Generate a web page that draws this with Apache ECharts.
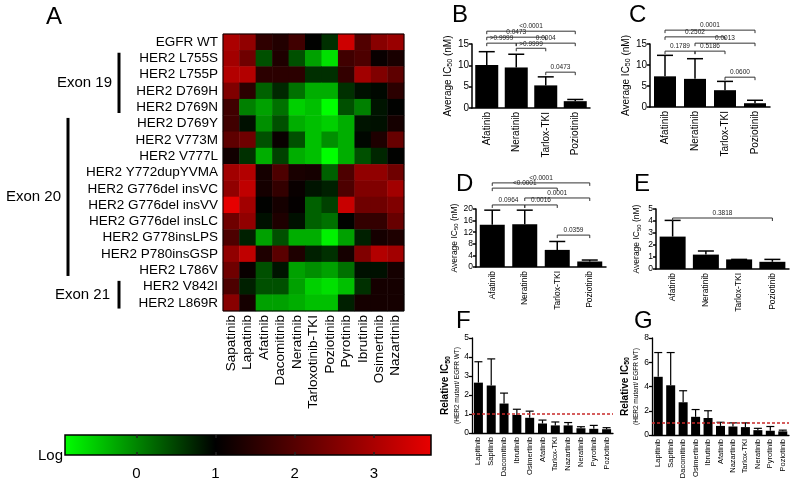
<!DOCTYPE html>
<html><head><meta charset="utf-8">
<script src="https://cdn.jsdelivr.net/npm/echarts@6/dist/echarts.min.js"></script>
<style>html,body{margin:0;padding:0;background:#fff}#c{width:800px;height:483px}</style>
</head><body><div id="c"></div>
<script>
// ---------------- DATA ----------------
const mutations = ['EGFR WT','HER2 L755S','HER2 L755P','HER2 D769H','HER2 D769N','HER2 D769Y','HER2 V773M','HER2 V777L','HER2 Y772dupYVMA','HER2 G776del insVC','HER2 G776del insVV','HER2 G776del insLC','HER2 G778insLPS','HER2 P780insGSP','HER2 L786V','HER2 V842I','HER2 L869R'];
const heatDrugs = ['Sapatinib','Lapatinib','Afatinib','Dacomitinib','Neratinib','Tarloxotinib-TKI','Poziotinib','Pyrotinib','Ibrutinib','Osimertinib','Nazartinib'];
const heatValues = [
  [3.0, 2.7, 1.55, 1.4, 1.75, 1.0, 0.64, 3.4, 1.95, 2.6, 2.8],
  [2.9, 2.3, 0.4, 1.35, 0.4, -0.2, -0.67, 1.75, 1.9, 1.1, 1.3],
  [3.1, 3.1, 1.5, 1.5, 1.5, 0.65, 0.65, 1.6, 2.9, 2.5, 2.1],
  [2.5, 1.5, 0.28, 0.7, 0.16, -0.3, -0.3, 0.64, 0.88, 0.94, 1.5],
  [1.75, 0.05, -0.2, 0.16, -0.55, -0.43, -0.9, 0.4, 0.05, 0.85, 1.0],
  [1.75, 0.88, -0.07, 0.4, -0.3, -0.43, -0.55, -0.3, 0.85, 0.88, 1.25],
  [2.1, 2.3, 0.4, 1.1, 0.4, -0.43, -0.07, -0.3, 0.95, 1.35, 2.2],
  [1.2, 0.64, -0.3, 0.52, -0.3, -0.43, -0.9, -0.3, 0.4, 0.72, 1.0],
  [2.9, 3.1, 1.25, 1.9, 1.3, 1.25, 0.28, 1.9, 2.7, 2.7, 2.3],
  [2.7, 3.25, 1.25, 1.6, 1.1, 0.85, 0.76, 1.9, 2.5, 2.5, 2.9],
  [3.7, 2.9, 1.0, 1.25, 1.05, 0.28, 0.52, 3.35, 2.3, 2.3, 2.5],
  [2.3, 2.7, 0.88, 1.35, 0.88, 0.28, 0.16, 1.0, 1.6, 1.6, 2.2],
  [1.9, 0.76, -0.2, 0.4, -0.3, -0.3, -0.8, -0.2, 0.76, 1.25, 1.35],
  [2.7, 3.25, 1.35, 2.05, 1.35, 0.76, 0.64, 1.25, 2.5, 3.1, 2.9],
  [2.3, 1.1, 0.4, 0.85, -0.2, -0.07, -0.2, 0.16, 0.88, 0.88, 1.25],
  [1.9, 0.76, 0.4, 0.4, -0.2, -0.55, -0.67, -0.43, 0.64, 1.25, 1.25],
  [2.6, 1.25, -0.2, -0.2, -0.3, -0.43, -0.43, 0.76, 1.25, 1.25, 1.25]
];
const colorMin = -0.9, colorMid = 1, colorMax = 3.72;
const colorbarTicks = [0, 1, 2, 3];

const exonGroups = [
  {name: 'Exon 19', first: 1, last: 4},
  {name: 'Exon 20', first: 5, last: 14},
  {name: 'Exon 21', first: 15, last: 16}
];

const drugsBCDE = ['Afatinib','Neratinib','Tarlox-TKI','Poziotinib'];
const bMeans = [10.1, 9.5, 5.3, 1.6];
const bUpper = [13.2, 12.6, 7.3, 2.0];
const bBracketPairs = [[0,3,18.0],[0,2,16.6],[0,1,15.2],[1,3,15.2],[1,2,14.0],[2,3,8.4]];
const bBracketLabels = ['<0.0001','0.0473','>0.9999','0.0004','>0.9999','0.0473'];

const cMeans = [7.3, 6.7, 4.0, 0.9];
const cUpper = [12.3, 11.5, 6.1, 1.6];
const cBracketPairs = [[0,3,18.3],[0,2,16.7],[1,3,15.2],[0,1,13.3],[1,2,13.3],[2,3,7.1]];
const cBracketLabels = ['0.0001','0.2502','0.0013','0.1789','0.5186','0.0600'];

const dMeans = [14.6, 14.7, 5.9, 1.9];
const dUpper = [19.6, 19.6, 8.8, 2.4];
const dBracketPairs = [[0,3,29.0],[0,2,27.2],[1,3,23.8],[0,1,21.4],[1,2,21.4],[2,3,11.0]];
const dBracketLabels = ['<0.0001','<0.0001','0.0001','0.0964','0.0016','0.0359'];

const eMeans = [2.7, 1.2, 0.8, 0.6];
const eUpper = [4.05, 1.5, 0.8, 0.8];
const eBracketPairs = [[0,3,4.25]];
const eBracketLabels = ['0.3818'];

const fDrugs = ['Lapitinib','Sapitinib','Dacomitinib','Ibrutinib','Osimertinib','Afatinib','Tarlox-TKI','Nazartinib','Neratinib','Pyrotinib','Poziotinib'];
const fMeans = [2.65, 2.5, 1.55, 0.95, 0.8, 0.5, 0.4, 0.4, 0.25, 0.22, 0.2];
const fUpper = [3.75, 3.9, 2.1, 1.25, 1.15, 0.68, 0.58, 0.55, 0.33, 0.4, 0.28];

const gDrugs = ['Lapitinib','Sapitinib','Dacomitinib','Osimertinib','Ibrutinib','Afatinib','Nazartinib','Tarlox-TKI','Neratinib','Pyrotinib','Poziotinib'];
const gMeans = [4.8, 4.1, 2.7, 1.5, 1.4, 0.75, 0.7, 0.65, 0.4, 0.35, 0.3];
const gUpper = [6.8, 6.8, 3.65, 2.1, 2.0, 1.05, 1.0, 1.0, 0.55, 0.7, 0.4];
const referenceRatio = 1;

// ---------------- STYLE / LAYOUT ----------------
const FONT = 'Liberation Sans, Arial, sans-serif';
const heatRect = {left: 223, top: 34, width: 181, height: 277};
const cbRect = {left: 65, top: 435, width: 366, height: 20};

function colorFor(v) {
  if (v <= colorMid) {
    const g = Math.round(255 * (colorMid - v) / (colorMid - colorMin));
    return 'rgb(0,' + Math.max(0, Math.min(255, g)) + ',0)';
  }
  const r = Math.round(232 * (v - colorMid) / (colorMax - colorMid));
  return 'rgb(' + Math.max(0, Math.min(255, r)) + ',0,0)';
}
const stops = [];
const NST = 60;
for (let i = 0; i <= NST; i++) stops.push(colorFor(colorMin + (colorMax - colorMin) * i / NST));

const heatData = [];
heatValues.forEach((row, ri) => row.forEach((v, ci) => heatData.push([ci, ri, v])));

const grids = [], xAxes = [], yAxes = [], series = [];

// heatmap grid 0
grids.push({left: heatRect.left, top: heatRect.top, width: heatRect.width, height: heatRect.height});
xAxes.push({type: 'category', gridIndex: 0, data: heatDrugs, position: 'bottom',
  axisLine: {show: false}, axisTick: {show: false}, splitLine: {show: false},
  axisLabel: {rotate: 90, fontSize: 13.5, color: '#000', margin: 4, fontFamily: FONT, interval: 0}});
yAxes.push({type: 'category', gridIndex: 0, data: mutations, inverse: true,
  axisLine: {show: false}, axisTick: {show: false}, splitLine: {show: false},
  axisLabel: {fontSize: 13.5, color: '#000', margin: 5, fontFamily: FONT, interval: 0}});
series.push({type: 'heatmap', xAxisIndex: 0, yAxisIndex: 0, data: heatData, itemStyle: {borderWidth: 0}, emphasis: {disabled: true}});

// colorbar grid 1
grids.push({left: cbRect.left, top: cbRect.top, width: cbRect.width, height: cbRect.height});
xAxes.push({type: 'value', gridIndex: 1, min: colorMin, max: colorMax, position: 'bottom', z: 10,
  axisLine: {show: false}, splitLine: {show: false},
  axisTick: {show: true, inside: true, length: 3, lineStyle: {color: '#222', width: 1.5}, customValues: colorbarTicks},
  axisLabel: {fontSize: 15, color: '#000', margin: 11, fontFamily: FONT, customValues: colorbarTicks}});
xAxes.push({type: 'value', gridIndex: 1, min: colorMin, max: colorMax, position: 'top', z: 10,
  axisLine: {show: false}, splitLine: {show: false},
  axisTick: {show: true, inside: true, length: 3, lineStyle: {color: '#222', width: 1.5}, customValues: colorbarTicks},
  axisLabel: {show: false}});
yAxes.push({type: 'value', gridIndex: 1, show: false, min: 0, max: 1});

function errRender(capW, lw) {
  return function (params, api) {
    const x = api.value(0), m = api.value(1), e = api.value(2);
    const p0 = api.coord([x, m]), p1 = api.coord([x, e]);
    return {type: 'group', children: [
      {type: 'line', shape: {x1: p0[0], y1: p0[1], x2: p1[0], y2: p1[1]}, style: {stroke: '#000', lineWidth: lw}},
      {type: 'line', shape: {x1: p1[0] - capW / 2, y1: p1[1], x2: p1[0] + capW / 2, y2: p1[1]}, style: {stroke: '#000', lineWidth: lw}}
    ]};
  };
}
function bracketRender(labels) {
  return function (params, api) {
    const a = api.coord([api.value(0), api.value(2)]);
    const b = api.coord([api.value(1), api.value(2)]);
    const t = 3;
    return {type: 'group', children: [
      {type: 'polyline', shape: {points: [[a[0], a[1] + t], [a[0], a[1]], [b[0], b[1]], [b[0], b[1] + t]]},
        style: {stroke: '#333', lineWidth: 1, fill: null}},
      {type: 'text', x: (a[0] + b[0]) / 2, y: a[1] - 1,
        style: {text: labels[params.dataIndex], fontSize: 6.5, fontFamily: FONT, fill: '#222', align: 'center', verticalAlign: 'bottom'}}
    ]};
  };
}

function addPanel(p) {
  const gi = grids.length;
  grids.push({left: p.rect[0], top: p.rect[1], width: p.rect[2], height: p.rect[3]});
  const xi = xAxes.length, yi = yAxes.length;
  xAxes.push({type: 'category', gridIndex: gi, data: p.cats,
    axisLine: {lineStyle: {color: '#000', width: p.axisW}}, axisTick: {show: false}, splitLine: {show: false},
    axisLabel: {rotate: 90, fontSize: p.xFont, color: '#000', margin: 4, fontFamily: FONT, interval: 0}});
  yAxes.push({type: 'value', gridIndex: gi, min: 0, max: p.yMax, interval: p.yInt,
    axisLine: {show: true, lineStyle: {color: '#000', width: p.axisW}},
    axisTick: {show: true, length: 3, lineStyle: {color: '#000', width: p.axisW}},
    splitLine: {show: false},
    axisLabel: {fontSize: p.yFont, color: '#000', margin: 3, fontFamily: FONT},
    name: p.name, nameLocation: 'middle', nameRotate: 90, nameGap: p.nameGap,
    nameTextStyle: {fontFamily: FONT, color: '#000', rich: p.rich}});
  series.push({type: 'bar', xAxisIndex: xi, yAxisIndex: yi, data: p.means, barWidth: p.barW,
    itemStyle: {color: '#000'}, z: 3, silent: true});
  series.push({type: 'custom', xAxisIndex: xi, yAxisIndex: yi, clip: false, z: 4, silent: true,
    renderItem: errRender(p.capW, p.errW),
    encode: {x: 0, y: [1, 2]},
    data: p.means.map((m, i) => [i, m, p.upper[i]])});
  if (p.brackets) {
    series.push({type: 'custom', xAxisIndex: xi, yAxisIndex: yi, clip: false, z: 5, silent: true,
      renderItem: bracketRender(p.bracketLabels),
      encode: {x: [0, 1], y: 2},
      data: p.brackets});
  }
  if (p.refLine) {
    series.push({type: 'line', xAxisIndex: xi, yAxisIndex: yi, data: [], z: 2, silent: true,
      markLine: {silent: true, symbol: 'none', label: {show: false},
        lineStyle: {color: '#c82828', type: [3, 2], width: 1.5},
        data: [{yAxis: referenceRatio}]}});
  }
}

const richAvg = {
  t: {fontSize: 10, fontFamily: FONT, color: '#000'},
  s: {fontSize: 7, fontFamily: FONT, color: '#000', padding: [5, 0, 0, 0]}
};
const richAvgSmall = {
  t: {fontSize: 8.5, fontFamily: FONT, color: '#000'},
  s: {fontSize: 6, fontFamily: FONT, color: '#000', padding: [4, 0, 0, 0]}
};
const richRel = {
  t: {fontSize: 10, fontWeight: 'bold', fontFamily: FONT, color: '#000'},
  s: {fontSize: 7, fontWeight: 'bold', fontFamily: FONT, color: '#000', padding: [5, 0, 0, 0]},
  u: {fontSize: 6.5, fontFamily: FONT, color: '#000', padding: [2, 0, 0, 0]}
};
const avgName = '{t|Average IC}{s|50}{t| (nM)}';
const relName = '{t|Relative IC}{s|50}\n{u|(HER2 mutant/ EGFR WT)}';

addPanel({rect: [472, 44, 118, 64], cats: drugsBCDE, means: bMeans, upper: bUpper, yMax: 15, yInt: 5,
  barW: 23, capW: 16, errW: 1.5, axisW: 1.5, xFont: 10, yFont: 10, name: avgName, nameGap: 16, rich: richAvg,
  brackets: bBracketPairs, bracketLabels: bBracketLabels});
addPanel({rect: [650, 44, 120, 63], cats: drugsBCDE, means: cMeans, upper: cUpper, yMax: 15, yInt: 5,
  barW: 22, capW: 16, errW: 1.5, axisW: 1.5, xFont: 10, yFont: 10, name: avgName, nameGap: 15, rich: richAvg,
  brackets: cBracketPairs, bracketLabels: cBracketLabels});
addPanel({rect: [476, 209, 130, 58], cats: drugsBCDE, means: dMeans, upper: dUpper, yMax: 20, yInt: 4,
  barW: 25, capW: 16, errW: 1.5, axisW: 1.5, xFont: 8.5, yFont: 8.5, name: avgName, nameGap: 15, rich: richAvgSmall,
  brackets: dBracketPairs, bracketLabels: dBracketLabels});
addPanel({rect: [656, 209, 133, 60], cats: drugsBCDE, means: eMeans, upper: eUpper, yMax: 5, yInt: 1,
  barW: 26, capW: 16, errW: 1.5, axisW: 1.5, xFont: 8.5, yFont: 8.5, name: avgName, nameGap: 14, rich: richAvgSmall,
  brackets: eBracketPairs, bracketLabels: eBracketLabels});
addPanel({rect: [472, 338, 141, 95], cats: fDrugs, means: fMeans, upper: fUpper, yMax: 5, yInt: 1,
  barW: 9, capW: 8, errW: 1.2, axisW: 1.3, xFont: 7.5, yFont: 8.5, name: relName, nameGap: 11, rich: richRel,
  refLine: true});
addPanel({rect: [652, 338, 137, 97], cats: gDrugs, means: gMeans, upper: gUpper, yMax: 8, yInt: 2,
  barW: 9, capW: 8, errW: 1.2, axisW: 1.3, xFont: 7.5, yFont: 8.5, name: relName, nameGap: 12, rich: richRel,
  refLine: true});

// ---------------- GRAPHICS (annotations) ----------------
const rowH = heatRect.height / mutations.length;
const graphics = [];
function letter(t, x, y) {
  graphics.push({type: 'text', x: x, y: y, style: {text: t, fontSize: 24, fontFamily: FONT, fill: '#000'}});
}
letter('A', 46, 5); letter('B', 452, 3); letter('C', 629, 3); letter('D', 456, 172);
letter('E', 634, 172); letter('F', 456, 309); letter('G', 634, 309);

const exonStyle = [
  {barX: 119, textRight: 112},
  {barX: 68, textRight: 61},
  {barX: 119, textRight: 110}
];
exonGroups.forEach((g, i) => {
  const y1 = heatRect.top + rowH * (g.first + 0.15);
  const y2 = heatRect.top + rowH * (g.last + 0.85);
  graphics.push({type: 'line', shape: {x1: exonStyle[i].barX, y1: y1, x2: exonStyle[i].barX, y2: y2},
    style: {stroke: '#000', lineWidth: 3}});
  graphics.push({type: 'text', x: exonStyle[i].textRight, y: (y1 + y2) / 2,
    style: {text: g.name, fontSize: 15, fontFamily: FONT, fill: '#000', align: 'right', verticalAlign: 'middle'}});
});
graphics.push({type: 'rect', shape: {x: heatRect.left, y: heatRect.top, width: heatRect.width, height: heatRect.height},
  style: {fill: null, stroke: '#000', lineWidth: 1}, z: 100});
const midFrac = (colorMid - colorMin) / (colorMax - colorMin);
graphics.push({type: 'rect', z: 1, shape: {x: cbRect.left, y: cbRect.top, width: cbRect.width, height: cbRect.height},
  style: {stroke: '#000', lineWidth: 1.5,
    fill: new echarts.graphic.LinearGradient(0, 0, 1, 0, [
      {offset: 0, color: colorFor(colorMin)}, {offset: midFrac, color: '#000'}, {offset: 1, color: colorFor(colorMax)}])}});
graphics.push({type: 'text', x: 63, y: 456, style: {text: 'Log', fontSize: 15, fontFamily: FONT, fill: '#000', align: 'right', verticalAlign: 'middle'}});

const chart = echarts.init(document.getElementById('c'), null, {renderer: 'canvas'});
chart.setOption({
  animation: false,
  backgroundColor: '#fff',
  textStyle: {fontFamily: FONT},
  grid: grids,
  xAxis: xAxes,
  yAxis: yAxes,
  visualMap: {type: 'continuous', show: false, seriesIndex: 0, dimension: 2, min: colorMin, max: colorMax,
    inRange: {color: stops}},
  series: series,
  graphic: {elements: graphics}
});
</script>
</body></html>
